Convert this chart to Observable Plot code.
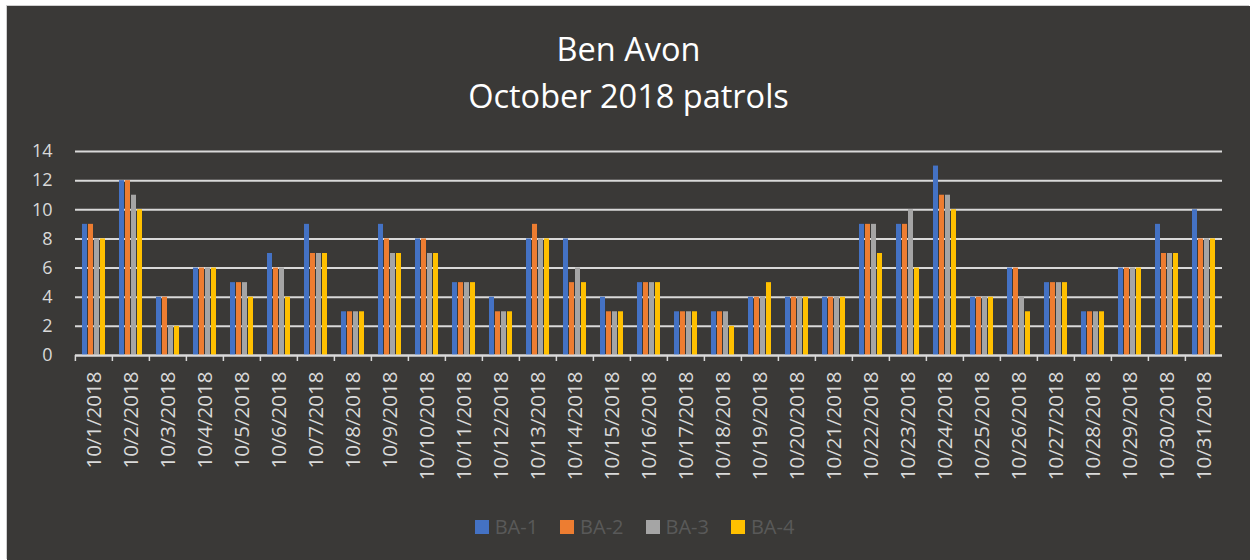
<!DOCTYPE html>
<html><head><meta charset="utf-8">
<script src="https://cdn.jsdelivr.net/npm/d3@7"></script>
<script src="https://cdn.jsdelivr.net/npm/@observablehq/plot@0.6"></script>
<style>
html,body{margin:0;padding:0;background:#fff;width:1250px;height:560px;overflow:hidden;font-family:"Open Sans",sans-serif;}
#card{position:absolute;left:7px;top:6px;width:1243px;height:554px;background:#3a3937;box-shadow:-1px -1px 0 #cfcfcf;}
#title{position:absolute;left:0;top:19px;width:100%;text-align:center;color:#fff;font-size:32.5px;line-height:47px;}
#chart{position:absolute;left:0;top:124px;}
#legend{position:absolute;top:507px;left:6px;width:100%;display:flex;justify-content:center;gap:22px;color:#595959;font-size:20px;line-height:28px;}
#legend .item{display:flex;align-items:center;gap:6px;}
#legend .sw{width:14px;height:14px;display:inline-block;}
</style>
</head><body>
<div id="card">
  <div id="title"><div>Ben Avon</div><div>October 2018 patrols</div></div>
  <div id="chart"></div>
  <div id="legend"></div>
</div>
<script>
const dates = ["10/1/2018","10/2/2018","10/3/2018","10/4/2018","10/5/2018","10/6/2018","10/7/2018","10/8/2018","10/9/2018","10/10/2018","10/11/2018","10/12/2018","10/13/2018","10/14/2018","10/15/2018","10/16/2018","10/17/2018","10/18/2018","10/19/2018","10/20/2018","10/21/2018","10/22/2018","10/23/2018","10/24/2018","10/25/2018","10/26/2018","10/27/2018","10/28/2018","10/29/2018","10/30/2018","10/31/2018"];
const series = ["BA-1","BA-2","BA-3","BA-4"];
const colors = ["#4472c4","#ed7d31","#a5a5a5","#ffc000"];
const ba1 = [9,12,4,6,5,7,9,3,9,8,5,4,8,8,4,5,3,3,4,4,4,9,9,13,4,6,5,3,6,9,10];
const ba2 = [9,12,4,6,5,6,7,3,8,8,5,3,9,5,3,5,3,3,4,4,4,9,9,11,4,6,5,3,6,7,8];
const ba3 = [8,11,2,6,5,6,7,3,7,7,5,3,8,6,3,5,3,3,4,4,4,9,10,11,4,4,5,3,6,7,8];
const ba4 = [8,10,2,6,4,4,7,3,7,7,5,3,8,5,3,5,3,2,5,4,4,7,6,10,4,3,5,3,6,7,8];
const yTicks = [0,2,4,6,8,10,12,14];

const values = [ba1, ba2, ba3, ba4];
const data = dates.flatMap((d, i) => series.map((s, j) => ({date: d, series: s, value: values[j][i]})));

const W = 1243, ML = 64, MR = 25;
const step = (W - ML - MR) / dates.length;

const chart = Plot.plot({
  width: W,
  height: 380,
  marginLeft: ML,
  marginRight: MR,
  marginTop: 21,
  marginBottom: 155,
  style: {background: "transparent", color: "#d9d9d9", fontFamily: "Open Sans, sans-serif"},
  fx: {domain: dates, padding: 0, label: null},
  x: {domain: series, paddingInner: 0.24, paddingOuter: 0.84, axis: null},
  y: {domain: [0, 14], label: null},
  color: {domain: series, range: colors},
  marks: [
    Plot.gridY(yTicks, {stroke: "#d9d9d9", strokeOpacity: 1, strokeWidth: 2}),
    Plot.barY(data, {fx: "date", x: "series", y: "value", fill: "series"}),
    Plot.ruleY([0], {stroke: "#d9d9d9", strokeWidth: 2}),
    Plot.axisY(yTicks, {tickSize: 0, tickPadding: 23, fontSize: 18, fill: "#d9d9d9", label: null}),
    Plot.axisFx({anchor: "bottom", tickRotate: -90, tickSize: 0, tickPadding: 16, fontSize: 20.5, fill: "#d9d9d9", label: null}),
    Plot.axisFx({anchor: "bottom", text: null, tickSize: 6, stroke: "#d9d9d9", strokeWidth: 1.5, dx: -step / 2, label: null})
  ]
});
document.getElementById("chart").appendChild(chart);

const legend = document.getElementById("legend");
series.forEach((s, i) => {
  const it = document.createElement("div");
  it.className = "item";
  it.innerHTML = `<span class="sw" style="background:${colors[i]}"></span><span>${s}</span>`;
  legend.appendChild(it);
});
</script>
</body></html>
